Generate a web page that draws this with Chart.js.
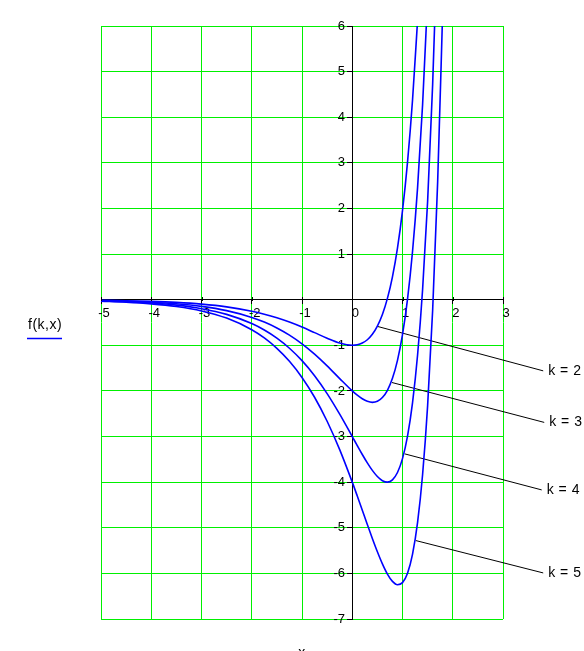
<!DOCTYPE html>
<html>
<head>
<meta charset="utf-8">
<script src="https://cdn.jsdelivr.net/npm/chart.js@4"></script>
<style>
  html, body { margin: 0; padding: 0; background: #fff; }
  #wrap { width: 584px; height: 651px; }
</style>
</head>
<body>
<div id="wrap"><canvas id="graf" width="584" height="651"></canvas></div>
<script>
// valores: x comun y f(k,x) para cada k
const xs = [-5, -4.5, -4, -3.5, -3, -2.5, -2, -1.75, -1.5, -1.25, -1, -0.75, -0.5, -0.25,
  0, 0.1, 0.2, 0.3, 0.4, 0.5, 0.6, 0.7, 0.8, 0.9, 1.0, 1.1, 1.2, 1.3, 1.4, 1.5, 1.6, 1.7, 1.8];

const k2 = [-0.013, -0.022, -0.036, -0.059, -0.097, -0.157, -0.252, -0.317, -0.396, -0.491, -0.600, -0.722, -0.845, -0.951,
  -1, -0.989, -0.951, -0.878, -0.758, -0.579, -0.324, 0.028, 0.502, 1.130, 1.952, 3.017, 4.383, 6.125];
const k3 = [-0.020, -0.033, -0.055, -0.090, -0.147, -0.240, -0.388, -0.491, -0.620, -0.777, -0.968, -1.194, -1.452, -1.730,
  -2, -2.094, -2.172, -2.227, -2.250, -2.228, -2.146, -1.986, -1.724, -1.329, -0.766, 0.013, 1.063, 2.456, 4.279, 6.640];
const k4 = [-0.027, -0.044, -0.073, -0.120, -0.197, -0.322, -0.523, -0.665, -0.843, -1.064, -1.336, -1.666, -2.058, -2.509,
  -3, -3.199, -3.394, -3.577, -3.742, -3.877, -3.968, -4.000, -3.949, -3.789, -3.484, -2.992, -2.257, -1.213, 0.224, 2.159, 4.720, 8.068];
const k5 = [-0.034, -0.055, -0.091, -0.150, -0.246, -0.404, -0.658, -0.839, -1.066, -1.350, -1.704, -2.139, -2.665, -3.287,
  -4, -4.304, -4.615, -4.927, -5.234, -5.525, -5.790, -6.014, -6.175, -6.248, -6.202, -5.996, -5.577, -4.883, -3.831, -2.323, -0.233, 2.594, 6.350];

const series = [k2, k3, k4, k5];
const etiquetas = ["k = 2", "k = 3", "k = 4", "k = 5"];

// lineas de las etiquetas: desde la curva hasta el texto (coordenadas de datos)
const flechaDesde = [[0.512, -0.589], [0.791, -1.816], [1.044, -3.38], [1.263, -5.28]];
const flechaHasta = [[3.80, -1.56], [3.82, -2.69], [3.77, -4.17], [3.80, -5.99]];

// ticks de los ejes
const xTicks = [-5, -4, -3, -2, -1, 0, 1, 2, 3];
const yTicks = [6, 5, 4, 3, 2, 1, 0, -1, -2, -3, -4, -5, -6, -7];

const fuente = "'Liberation Sans', Arial, sans-serif";
const verde = '#00f000';

const datasets = series.map(ys => ({
  data: ys.map((y, i) => ({ x: xs[i], y: y })),
  borderColor: '#0000ff',
  borderWidth: 1.6,
  pointRadius: 0,
  cubicInterpolationMode: 'monotone',
  fill: false
}));

flechaDesde.forEach((p, i) => {
  datasets.push({
    data: [{ x: p[0], y: p[1] }, { x: flechaHasta[i][0], y: flechaHasta[i][1] }],
    borderColor: '#000',
    borderWidth: 1,
    pointRadius: 0,
    clip: false,
    fill: false
  });
});

// textos extra: f(k,x), x y k = n; y las marcas del eje x hacia arriba
const textos = {
  id: 'textos',
  afterDraw(chart) {
    const ctx = chart.ctx;
    const sx = chart.scales.x, sy = chart.scales.y;
    ctx.save();
    // marcas del eje x que cruzan la linea
    const y0 = Math.round(sy.getPixelForValue(0));
    ctx.strokeStyle = '#000';
    ctx.lineWidth = 1;
    ctx.beginPath();
    xTicks.forEach(v => {
      const px = Math.round(sx.getPixelForValue(v)) + 0.5;
      ctx.moveTo(px, y0 - 3);
      ctx.lineTo(px, y0 + 1);
    });
    ctx.stroke();

    ctx.fillStyle = '#000';
    ctx.font = '14px ' + fuente;
    ctx.letterSpacing = '0.5px';
    ctx.textBaseline = 'middle';
    ctx.textAlign = 'left';
    etiquetas.forEach((t, i) => {
      ctx.fillText(t, sx.getPixelForValue(flechaHasta[i][0]) + 5, sy.getPixelForValue(flechaHasta[i][1]));
    });
    // nombre de la funcion a la izquierda
    ctx.fillText('f(k,x)', 28, 325);
    ctx.strokeStyle = '#0000ff';
    ctx.lineWidth = 1.5;
    ctx.beginPath();
    ctx.moveTo(27, 338.5);
    ctx.lineTo(62, 338.5);
    ctx.stroke();
    // titulo del eje x (cortado abajo)
    ctx.textAlign = 'center';
    ctx.textBaseline = 'alphabetic';
    ctx.fillText('x', (chart.chartArea.left + chart.chartArea.right) / 2, 657);
    ctx.restore();
  }
};

new Chart(document.getElementById('graf').getContext('2d'), {
  type: 'line',
  data: { datasets: datasets },
  options: {
    responsive: false,
    animation: false,
    layout: { padding: { left: 101, right: 81, top: 26, bottom: 32 } },
    plugins: { legend: { display: false }, tooltip: { enabled: false } },
    scales: {
      x: {
        type: 'linear',
        min: -5, max: 3,
        position: { y: 0 },
        afterBuildTicks: s => { s.ticks = xTicks.map(v => ({ value: v })); },
        ticks: { color: '#000', font: { family: fuente, size: 13 }, padding: 2, labelOffset: 3, maxRotation: 0 },
        grid: { color: verde, lineWidth: 1, tickColor: '#000', tickLength: 4 },
        border: { color: '#000', width: 1 }
      },
      y: {
        type: 'linear',
        min: -7, max: 6,
        position: { x: 0 },
        afterBuildTicks: s => { s.ticks = yTicks.map(v => ({ value: v })); },
        ticks: {
          color: '#000', font: { family: fuente, size: 13 }, padding: 2,
          // espacios finales para separar el texto de la linea del eje
          callback: v => (v === 0 ? '' : String(v) + '  ')
        },
        grid: { color: verde, lineWidth: 1, tickColor: '#000', tickLength: 5 },
        border: { color: '#000', width: 1 }
      }
    }
  },
  plugins: [textos]
});
</script>
</body>
</html>
